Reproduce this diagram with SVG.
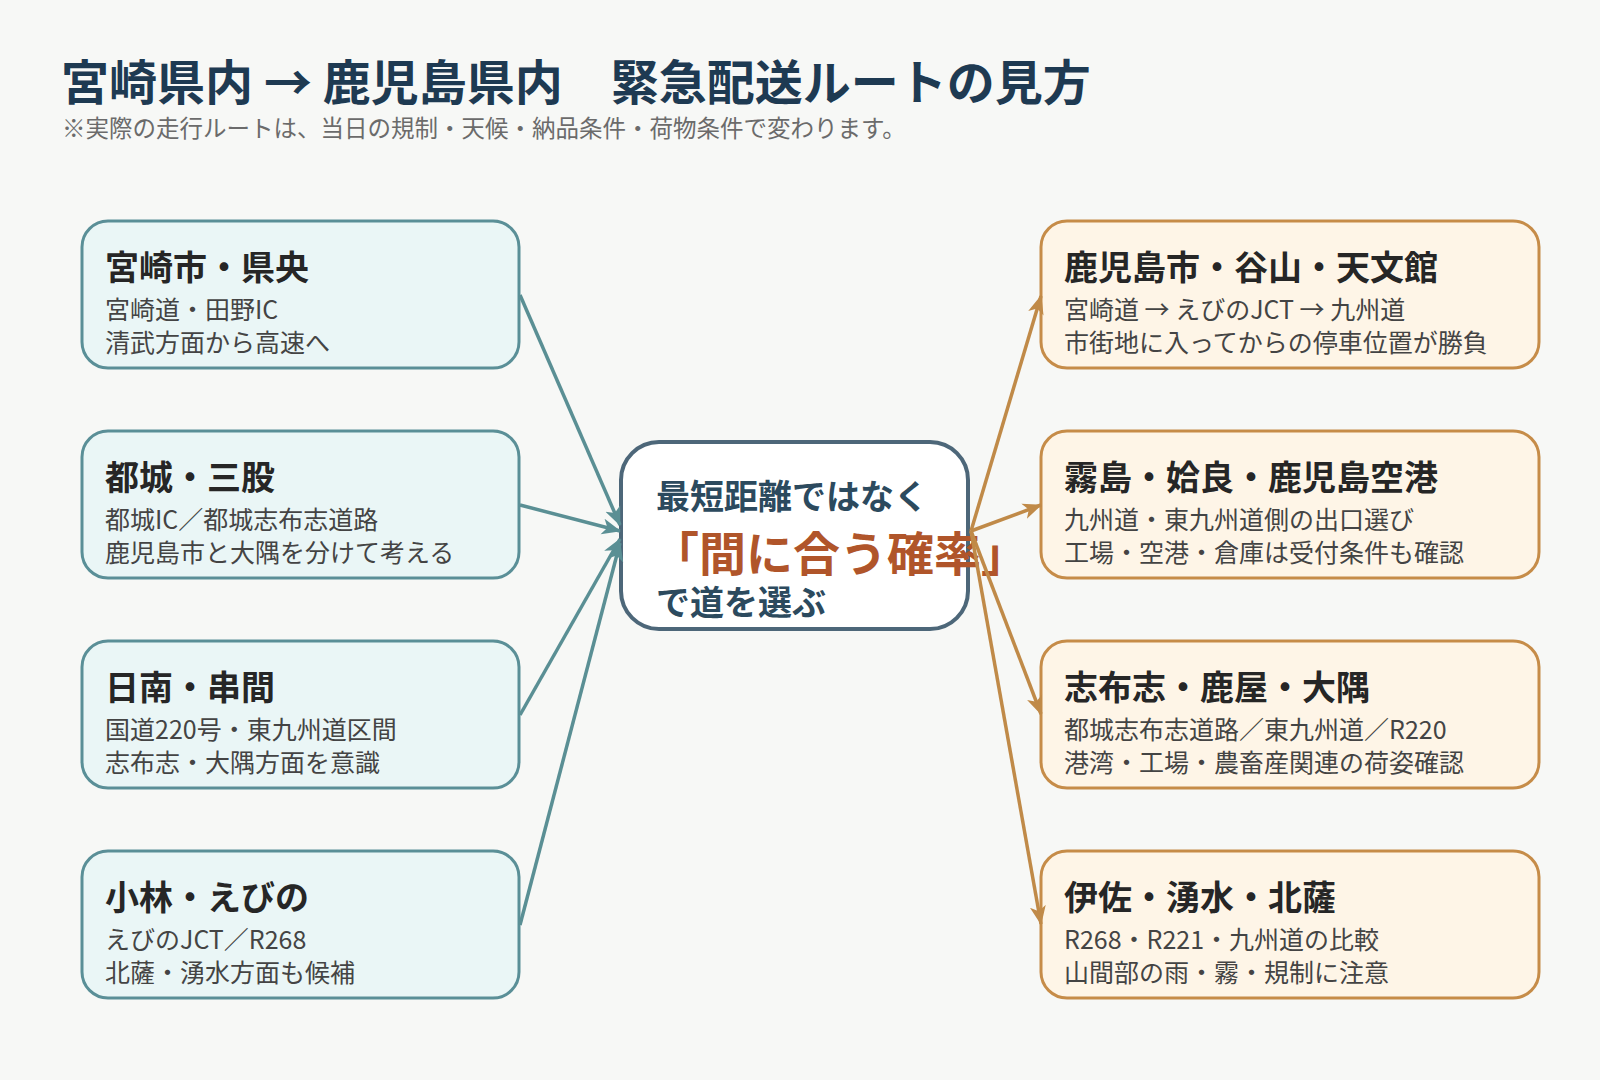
<svg xmlns="http://www.w3.org/2000/svg" width="1600" height="1080" viewBox="0 0 1600 1080">
<defs>
<style>
.ttl{font-family:"Noto Sans CJK JP","Noto Sans",sans-serif;font-weight:700;fill:#1e3a52;font-size:48px}
.sub{font-family:"Noto Sans CJK JP","Noto Sans",sans-serif;fill:#6b6b6b;font-size:23.5px}
.nl rect{fill:#eaf6f6;stroke:#5a8f97;stroke-width:3}
.nr rect{fill:#fef5e7;stroke:#c68c48;stroke-width:3}
.nh{font-family:"Noto Sans CJK JP","Noto Sans",sans-serif;font-weight:700;fill:#262626;font-size:34px}
.nb{font-family:"Noto Sans CJK JP","Noto Sans",sans-serif;fill:#444;font-size:25px}
.ct{font-family:"Noto Sans CJK JP","Noto Sans",sans-serif;font-weight:700;fill:#2c4a5e;font-size:34px}
.ce{font-family:"Noto Sans CJK JP","Noto Sans",sans-serif;font-weight:700;fill:#b0552a;font-size:47px}
.el{stroke:#5a8f94;stroke-width:3.5;fill:none}
.er{stroke:#c08a48;stroke-width:3.5;fill:none}
</style>
<marker id="at" markerUnits="userSpaceOnUse" markerWidth="20" markerHeight="18" viewBox="0 0 20 18" refX="18" refY="9" orient="auto">
<path d="M0,1 L19,9 L0,17 L5,9 Z" fill="#5a8f94"/>
</marker>
<marker id="ao" markerUnits="userSpaceOnUse" markerWidth="20" markerHeight="18" viewBox="0 0 20 18" refX="18" refY="9" orient="auto">
<path d="M0,1 L19,9 L0,17 L5,9 Z" fill="#c08a48"/>
</marker>
</defs>
<rect x="0" y="0" width="1600" height="1080" fill="#f7f8f6"/>
<text class="ttl" x="61" y="100">宮崎県内 → 鹿児島県内　緊急配送ルートの見方</text>
<text class="sub" x="62" y="137">※実際の走行ルートは、当日の規制・天候・納品条件・荷物条件で変わります。</text>

<g id="node-l1" class="nl">
<rect x="82" y="221" width="437" height="147" rx="26"/>
<text class="nh" x="105" y="280">宮崎市・県央</text>
<text class="nb" x="105" y="319">宮崎道・田野IC</text>
<text class="nb" x="105" y="352">清武方面から高速へ</text>
</g>
<g id="node-l2" class="nl">
<rect x="82" y="431" width="437" height="147" rx="26"/>
<text class="nh" x="105" y="490">都城・三股</text>
<text class="nb" x="105" y="529">都城IC／都城志布志道路</text>
<text class="nb" x="105" y="562">鹿児島市と大隅を分けて考える</text>
</g>
<g id="node-l3" class="nl">
<rect x="82" y="641" width="437" height="147" rx="26"/>
<text class="nh" x="105" y="700">日南・串間</text>
<text class="nb" x="105" y="739">国道220号・東九州道区間</text>
<text class="nb" x="105" y="772">志布志・大隅方面を意識</text>
</g>
<g id="node-l4" class="nl">
<rect x="82" y="851" width="437" height="147" rx="26"/>
<text class="nh" x="105" y="910">小林・えびの</text>
<text class="nb" x="105" y="949">えびのJCT／R268</text>
<text class="nb" x="105" y="982">北薩・湧水方面も候補</text>
</g>

<g id="node-center">
<rect x="621" y="442" width="347" height="187" rx="38" fill="#ffffff" stroke="#4d6779" stroke-width="4"/>
<text class="ct" x="656" y="509">最短距離ではなく</text>
<text class="ce" x="652" y="571">「間に合う確率」</text>
<text class="ct" x="656" y="615">で道を選ぶ</text>
</g>

<g id="node-r1" class="nr">
<rect x="1041" y="221" width="498" height="147" rx="26"/>
<text class="nh" x="1064" y="280">鹿児島市・谷山・天文館</text>
<text class="nb" x="1064" y="319">宮崎道 → えびのJCT → 九州道</text>
<text class="nb" x="1064" y="352">市街地に入ってからの停車位置が勝負</text>
</g>
<g id="node-r2" class="nr">
<rect x="1041" y="431" width="498" height="147" rx="26"/>
<text class="nh" x="1064" y="490">霧島・姶良・鹿児島空港</text>
<text class="nb" x="1064" y="529">九州道・東九州道側の出口選び</text>
<text class="nb" x="1064" y="562">工場・空港・倉庫は受付条件も確認</text>
</g>
<g id="node-r3" class="nr">
<rect x="1041" y="641" width="498" height="147" rx="26"/>
<text class="nh" x="1064" y="700">志布志・鹿屋・大隅</text>
<text class="nb" x="1064" y="739">都城志布志道路／東九州道／R220</text>
<text class="nb" x="1064" y="772">港湾・工場・農畜産関連の荷姿確認</text>
</g>
<g id="node-r4" class="nr">
<rect x="1041" y="851" width="498" height="147" rx="26"/>
<text class="nh" x="1064" y="910">伊佐・湧水・北薩</text>
<text class="nb" x="1064" y="949">R268・R221・九州道の比較</text>
<text class="nb" x="1064" y="982">山間部の雨・霧・規制に注意</text>
</g>

<g id="connectors">
<line class="el" x1="520" y1="295" x2="620" y2="525" marker-end="url(#at)"/>
<line class="el" x1="520" y1="505" x2="620" y2="531" marker-end="url(#at)"/>
<line class="el" x1="520" y1="715" x2="620" y2="539" marker-end="url(#at)"/>
<line class="el" x1="520" y1="925" x2="620" y2="543" marker-end="url(#at)"/>
<line class="er" x1="971" y1="531" x2="1041" y2="296" marker-end="url(#ao)"/>
<line class="er" x1="971" y1="531" x2="1041" y2="505" marker-end="url(#ao)"/>
<line class="er" x1="971" y1="531" x2="1041" y2="714" marker-end="url(#ao)"/>
<line class="er" x1="971" y1="531" x2="1041" y2="924" marker-end="url(#ao)"/>
</g>
</svg>
